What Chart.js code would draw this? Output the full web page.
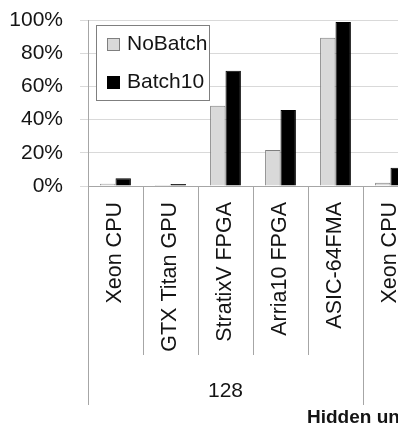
<!DOCTYPE html>
<html>
<head>
<meta charset="utf-8">
<script src="https://cdn.jsdelivr.net/npm/chart.js@4/dist/chart.umd.min.js"></script>
<style>
  html, body { margin: 0; padding: 0; background: #fff; overflow: hidden; }
  #wrap { width: 398px; height: 426px; overflow: hidden; }
</style>
</head>
<body>
<div id="wrap"><canvas id="speedChart" width="440" height="426"></canvas></div>
<script>
// values (percent)
const categories = ["Xeon CPU", "GTX Titan GPU", "StratixV FPGA", "Arria10 FPGA", "ASIC-64FMA", "Xeon CPU"];
const noBatch = [1.4, 0.6, 48.4, 21.7, 89.3, 2.0];
const batch10 = [4.6, 1.2, 69.5, 45.8, 98.8, 11.0];
const yTicks = [0, 20, 40, 60, 80, 100];
const groupLabels = ["128"];
const groupSize = 5;
const axisTitle = "Hidden units";

const FONT = "Liberation Sans";
const TEXT = "#141414";

// draws the group separators, group labels and the axis title under the x axis
const groupAxis = {
    id: "groupAxis",
    afterDraw(chart) {
        const ctx = chart.ctx;
        const x = chart.scales.x;
        const bottom = chart.chartArea.bottom;
        const half = (x.getPixelForValue(1) - x.getPixelForValue(0)) / 2;
        ctx.save();
        ctx.strokeStyle = "#a6a6a6";
        ctx.lineWidth = 1;
        for (let i = 0; i <= categories.length; i++) {
            let px = Math.round(x.getPixelForValue(i) - half) + 0.5;
            let len = (i % groupSize === 0) ? 219 : 169;
            ctx.beginPath();
            ctx.moveTo(px, bottom);
            ctx.lineTo(px, bottom + len);
            ctx.stroke();
        }
        ctx.fillStyle = TEXT;
        ctx.font = "21px '" + FONT + "'";
        ctx.textAlign = "center";
        ctx.textBaseline = "middle";
        groupLabels.forEach((g, gi) => {
            let a = x.getPixelForValue(gi * groupSize) - half;
            let b = x.getPixelForValue(gi * groupSize + groupSize - 1) + half;
            ctx.fillText(g, (a + b) / 2, bottom + 205);
        });
        ctx.font = "bold 19px '" + FONT + "'";
        ctx.textAlign = "left";
        ctx.fillText(axisTitle, 307, bottom + 232);
        ctx.restore();
    }
};

// legend box sitting inside the plot area
const boxLegend = {
    id: "boxLegend",
    afterDraw(chart) {
        const ctx = chart.ctx;
        const left = chart.chartArea.left + 8;
        const top = chart.chartArea.top + 5;
        ctx.save();
        ctx.fillStyle = "#fff";
        ctx.fillRect(left, top, 113, 75);
        ctx.strokeStyle = "#7f7f7f";
        ctx.lineWidth = 1;
        ctx.strokeRect(left + 0.5, top + 0.5, 113, 75);
        ctx.font = "21px '" + FONT + "'";
        ctx.textBaseline = "middle";
        chart.data.datasets.forEach((ds, i) => {
            let cy = top + 19 + i * 38;
            ctx.fillStyle = ds.backgroundColor;
            ctx.fillRect(left + 11, cy - 6, 13, 13);
            ctx.strokeStyle = ds.borderColor;
            ctx.strokeRect(left + 11.5, cy - 5.5, 12, 12);
            ctx.fillStyle = TEXT;
            ctx.fillText(ds.label, left + 31, cy);
        });
        ctx.restore();
    }
};

let ctx = document.getElementById("speedChart").getContext("2d");
let speedChart = new Chart(ctx, {
    type: "bar",
    data: {
        labels: categories,
        datasets: [
            {
                label: "NoBatch",
                data: noBatch,
                backgroundColor: "#d9d9d9",
                borderColor: "#7f7f7f",
                borderWidth: 1
            },
            {
                label: "Batch10",
                data: batch10,
                backgroundColor: "#000000",
                borderColor: "#000000",
                borderWidth: 1
            }
        ]
    },
    options: {
        responsive: false,
        animation: false,
        events: [],
        categoryPercentage: 0.56,
        barPercentage: 1.0,
        layout: { padding: { top: 0, right: 22, left: 0, bottom: 0 } },
        plugins: {
            legend: { display: false },
            tooltip: { enabled: false }
        },
        scales: {
            y: {
                min: 0,
                max: 100,
                afterBuildTicks: (scale) => { scale.ticks = yTicks.map(v => ({ value: v })); },
                afterFit: (scale) => {
                    scale.width = 88;
                    scale.paddingTop = 20; // keep 100% line near the top edge
                },
                ticks: {
                    callback: (v) => v + "%",
                    padding: 17,
                    color: TEXT,
                    font: { family: FONT, size: 21 }
                },
                grid: { color: "#d9d9d9", tickLength: 8 },
                border: { color: "#a6a6a6" }
            },
            x: {
                afterFit: (scale) => { scale.height = 240; },
                grid: { display: false, drawTicks: false },
                border: { color: "#a6a6a6" },
                ticks: {
                    autoSkip: false,
                    minRotation: 90,
                    maxRotation: 90,
                    padding: 16,
                    color: TEXT,
                    font: { family: FONT, size: 21.5 }
                }
            }
        }
    },
    plugins: [groupAxis, boxLegend]
});
</script>
</body>
</html>
